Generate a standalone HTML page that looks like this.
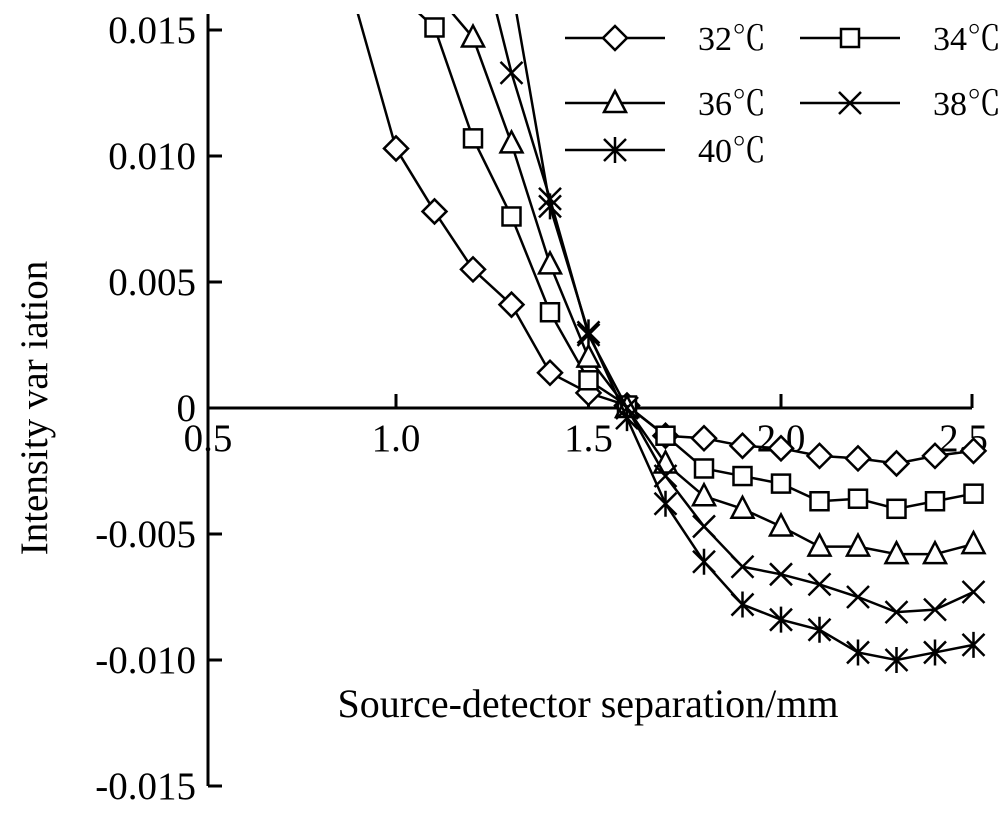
<!DOCTYPE html>
<html><head><meta charset="utf-8"><style>
body{margin:0;background:#fff}
text{font-family:"Liberation Serif","Noto Serif CJK SC",serif;fill:#000}
</style></head><body>
<svg width="1000" height="811" xmlns="http://www.w3.org/2000/svg">
<defs><clipPath id="pc"><rect x="208" y="14" width="790" height="780"/></clipPath></defs>
<g id="axes"></g><g id="series" clip-path="url(#pc)"></g><g id="legend"></g>
</svg>
<script>
const xs=[0.9,1.0,1.1,1.2,1.3,1.4,1.5,1.6,1.7,1.8,1.9,2.0,2.1,2.2,2.3,2.4,2.5];
const s32=[0.0157,0.0103,0.0078,0.0055,0.0041,0.0014,0.0006,0.0001,-0.0011,-0.0012,-0.0015,-0.0016,-0.0019,-0.0020,-0.0022,-0.0019,-0.0017];
const s34=[null,0.0165,0.0151,0.0107,0.0076,0.0038,0.0011,0.0001,-0.0011,-0.0024,-0.0027,-0.0030,-0.0037,-0.0036,-0.0040,-0.0037,-0.0034];
const s36=[null,null,0.0165,0.0147,0.0105,0.0057,0.0020,0.0000,-0.0022,-0.0035,-0.0040,-0.0047,-0.0055,-0.0055,-0.0058,-0.0058,-0.0054];
const s38=[null,null,null,0.0194,0.0133,0.0083,0.0029,0.0000,-0.0027,-0.0047,-0.0063,-0.0066,-0.0070,-0.0075,-0.0081,-0.0080,-0.0073];
const s40=[null,null,null,null,0.0168,0.0080,0.0030,-0.0004,-0.0038,-0.0061,-0.0078,-0.0084,-0.0088,-0.0097,-0.0100,-0.0097,-0.0094];
const xTicks=[0.5,1.0,1.5,2.0,2.5];
const yTicks=[0.015,0.010,0.005,0,-0.005,-0.010,-0.015];
const yLabels=["0.015","0.010","0.005","0","-0.005","-0.010","-0.015"];
const xLabels=["0.5","1.0","1.5","2.0","2.5"];
const NS="http://www.w3.org/2000/svg";
const X=v=>396+(v-1)*385;
const Y=v=>408-v*25200;
function mk(tag,attrs,parent){const e=document.createElementNS(NS,tag);for(const k in attrs)e.setAttribute(k,attrs[k]);parent.appendChild(e);return e;}
const ax=document.getElementById('axes'),sg=document.getElementById('series'),lg=document.getElementById('legend');
let a=mk('line',{x1:208,y1:14,x2:208,y2:786,stroke:'#000','stroke-width':3},ax);

a=mk('line',{x1:208,y1:408,x2:972,y2:408,stroke:'#000','stroke-width':3},ax);

yTicks.forEach((v,i)=>{
 const t=mk('line',{x1:208,x2:222,y1:Y(v),y2:Y(v),stroke:'#000','stroke-width':3},ax);
 
 const l=mk('text',{x:196,y:Y(v)+13,'text-anchor':'end','font-size':39},ax);l.textContent=yLabels[i];
 
});
xTicks.forEach((v,i)=>{
 const xx=Math.min(Math.max(X(v),208),972);
 const t=mk('line',{x1:xx,x2:xx,y1:408,y2:394,stroke:'#000','stroke-width':3},ax);
 
 const l=mk('text',{x:Math.max(X(v),208)-(i==4?10:0),y:451,'text-anchor':'middle','font-size':39},ax);l.textContent=xLabels[i];
 
});
let tt=mk('text',{x:588,y:717,'text-anchor':'middle','font-size':40},ax);tt.textContent='Source-detector separation/mm';

tt=mk('text',{x:0,y:0,'text-anchor':'middle','font-size':39,transform:'translate(47,408) rotate(-90)'},ax);tt.textContent='Intensity var iation';

function marker(type,x,y,p){
 const st={fill:'#fff',stroke:'#000','stroke-width':2.5};let e;
 if(type==='d'){e=mk('polygon',Object.assign({points:`${x},${y-12} ${x+12},${y} ${x},${y+12} ${x-12},${y}`},st),p);}
 else if(type==='s'){e=mk('rect',Object.assign({x:x-9,y:y-9,width:18,height:18},st),p);}
 else if(type==='t'){e=mk('polygon',Object.assign({points:`${x},${y-12} ${x+11},${y+9} ${x-11},${y+9}`},st),p);}
 else if(type==='x'){e=mk('path',{d:`M${x-11} ${y-11}L${x+11} ${y+11}M${x+11} ${y-11}L${x-11} ${y+11}`,stroke:'#000','stroke-width':2.5},p);}
 else {e=mk('path',{d:`M${x-11} ${y-11}L${x+11} ${y+11}M${x+11} ${y-11}L${x-11} ${y+11}M${x} ${y-13}L${x} ${y+13}`,stroke:'#000','stroke-width':2.5},p);}
 
}
const series=[[s32,'d','32℃'],[s34,'s','34℃'],[s36,'t','36℃'],[s38,'x','38℃'],[s40,'a','40℃']];
series.forEach(([d,m,n])=>{
 const pts=[];d.forEach((v,i)=>{if(v!==null)pts.push([X(xs[i]),Y(v)]);});
 const pl=mk('polyline',{points:pts.map(p=>p.join(',')).join(' '),fill:'none',stroke:'#000','stroke-width':2.5},sg);
 
 pts.forEach(p=>{if(p[1]>20)marker(m,p[0],p[1],sg);});
});
const lpos=[[565,38],[800,38],[565,103],[800,103],[565,150]];
series.forEach(([d,m,n],i)=>{
 const [x,y]=lpos[i];
 const g=mk('g',{},lg);
 mk('line',{x1:x,x2:x+100,y1:y,y2:y,stroke:'#000','stroke-width':2.5},g);
 marker(m,x+50,y,g);
 const t=mk('text',{x:x+133,y:y+12,'font-size':34},g);t.textContent=n;
});
</script>
</body></html>
